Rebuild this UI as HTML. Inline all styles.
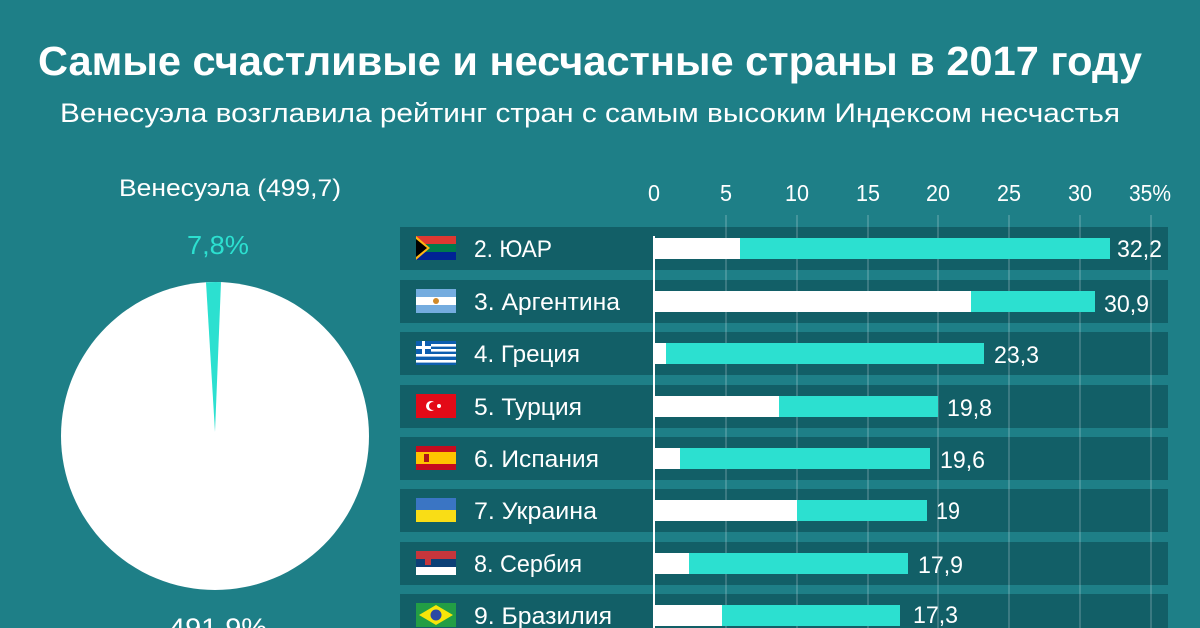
<!DOCTYPE html>
<html><head><meta charset="utf-8"><style>
html,body{margin:0;padding:0;background:#1e7f87;}
svg{display:block;}
text{font-family:"Liberation Sans","Noto Sans CJK SC",sans-serif;fill:#fff;}
</style></head><body>
<svg width="1200" height="628" viewBox="0 0 1200 628" xmlns="http://www.w3.org/2000/svg">
<rect width="1200" height="628" fill="#1e7f87"/>
<text x="590" y="75" font-size="41" font-weight="bold" text-anchor="middle" textLength="1104" lengthAdjust="spacingAndGlyphs">Самые счастливые и несчастные страны в 2017 году</text>
<text x="590" y="122" font-size="27" text-anchor="middle" textLength="1060" lengthAdjust="spacingAndGlyphs">Венесуэла возглавила рейтинг стран с самым высоким Индексом несчастья</text>

<text x="230" y="196" font-size="24" text-anchor="middle" textLength="222" lengthAdjust="spacingAndGlyphs">Венесуэла (499,7)</text>
<text x="218" y="254" font-size="26" text-anchor="middle" style="fill:#2ce0d0" textLength="62" lengthAdjust="spacingAndGlyphs">7,8%</text>
<circle cx="215" cy="436" r="154" fill="#fff"/>
<path d="M215 432 L206 282.3 A154 154 0 0 1 221 282.1 Z" fill="#2ce0d0"/>
<text x="218" y="637" font-size="27" text-anchor="middle" textLength="98" lengthAdjust="spacingAndGlyphs">491,9%</text>

<g fill="#125f67">
<rect x="400" y="227" width="768" height="43"/>
<rect x="400" y="280" width="768" height="43"/>
<rect x="400" y="332" width="768" height="43"/>
<rect x="400" y="385" width="768" height="43"/>
<rect x="400" y="437" width="768" height="43"/>
<rect x="400" y="489" width="768" height="43"/>
<rect x="400" y="542" width="768" height="43"/>
<rect x="400" y="594" width="768" height="43"/>
</g>
<g stroke="#ffffff" stroke-opacity="0.35" stroke-width="1">
<line x1="726" y1="215" x2="726" y2="628"/>
<line x1="797" y1="215" x2="797" y2="628"/>
<line x1="868" y1="215" x2="868" y2="628"/>
<line x1="938" y1="215" x2="938" y2="628"/>
<line x1="1009" y1="215" x2="1009" y2="628"/>
<line x1="1080" y1="215" x2="1080" y2="628"/>
<line x1="1151" y1="215" x2="1151" y2="628"/>
</g>
<g font-size="23" text-anchor="middle">
<text x="654" y="201" textLength="12" lengthAdjust="spacingAndGlyphs">0</text>
<text x="726" y="201" textLength="12" lengthAdjust="spacingAndGlyphs">5</text>
<text x="797" y="201" textLength="24" lengthAdjust="spacingAndGlyphs">10</text>
<text x="868" y="201" textLength="24" lengthAdjust="spacingAndGlyphs">15</text>
<text x="938" y="201" textLength="24" lengthAdjust="spacingAndGlyphs">20</text>
<text x="1009" y="201" textLength="24" lengthAdjust="spacingAndGlyphs">25</text>
<text x="1080" y="201" textLength="24" lengthAdjust="spacingAndGlyphs">30</text>
<text x="1150" y="201" textLength="42" lengthAdjust="spacingAndGlyphs">35%</text>
</g>

<g fill="#2ce0d0">
<rect x="654" y="238" width="456" height="21"/>
<rect x="654" y="291" width="441" height="21"/>
<rect x="654" y="343" width="330" height="21"/>
<rect x="654" y="396" width="284" height="21"/>
<rect x="654" y="448" width="276" height="21"/>
<rect x="654" y="500" width="273" height="21"/>
<rect x="654" y="553" width="254" height="21"/>
<rect x="654" y="605" width="246" height="21"/>
</g>
<g fill="#fff">
<rect x="654" y="238" width="86" height="21"/>
<rect x="654" y="291" width="317" height="21"/>
<rect x="654" y="343" width="12" height="21"/>
<rect x="654" y="396" width="125" height="21"/>
<rect x="654" y="448" width="26" height="21"/>
<rect x="654" y="500" width="143" height="21"/>
<rect x="654" y="553" width="35" height="21"/>
<rect x="654" y="605" width="68" height="21"/>
</g>
<line x1="654" y1="236" x2="654" y2="628" stroke="#fff" stroke-width="2"/>

<g font-size="24">
<text x="1117" y="257" textLength="45" lengthAdjust="spacingAndGlyphs">32,2</text>
<text x="1104" y="312" textLength="45" lengthAdjust="spacingAndGlyphs">30,9</text>
<text x="994" y="363" textLength="45" lengthAdjust="spacingAndGlyphs">23,3</text>
<text x="947" y="416" textLength="45" lengthAdjust="spacingAndGlyphs">19,8</text>
<text x="940" y="468" textLength="45" lengthAdjust="spacingAndGlyphs">19,6</text>
<text x="936" y="519" textLength="24" lengthAdjust="spacingAndGlyphs">19</text>
<text x="918" y="573" textLength="45" lengthAdjust="spacingAndGlyphs">17,9</text>
<text x="913" y="623" textLength="45" lengthAdjust="spacingAndGlyphs">17,3</text>
</g>
<g font-size="24">
<text x="474" y="257" textLength="78" lengthAdjust="spacingAndGlyphs">2. ЮАР</text>
<text x="474" y="310" textLength="146" lengthAdjust="spacingAndGlyphs">3. Аргентина</text>
<text x="474" y="362" textLength="106" lengthAdjust="spacingAndGlyphs">4. Греция</text>
<text x="474" y="415" textLength="108" lengthAdjust="spacingAndGlyphs">5. Турция</text>
<text x="474" y="467" textLength="125" lengthAdjust="spacingAndGlyphs">6. Испания</text>
<text x="474" y="519" textLength="123" lengthAdjust="spacingAndGlyphs">7. Украина</text>
<text x="474" y="572" textLength="108" lengthAdjust="spacingAndGlyphs">8. Сербия</text>
<text x="474" y="624" textLength="138" lengthAdjust="spacingAndGlyphs">9. Бразилия</text>
</g>

<g>
<rect x="416" y="236" width="40" height="24" fill="#007a4d"/>
<rect x="416" y="236" width="40" height="8" fill="#de3831"/>
<rect x="416" y="252" width="40" height="8" fill="#002395"/>
<rect x="416" y="245" width="40" height="6" fill="#007a4d"/>
<polygon points="416,236 430,248 416,260" fill="#ffb612"/>
<polygon points="416,239 427,248 416,257" fill="#000"/>
<rect x="416" y="289" width="40" height="24" fill="#74acdf"/>
<rect x="416" y="297" width="40" height="8" fill="#fff"/>
<circle cx="436" cy="301" r="3" fill="#d08a2a"/>
<rect x="416" y="341" width="40" height="24" fill="#0d5eaf"/>
<g fill="#fff"><rect x="416" y="344" width="40" height="2.6"/><rect x="416" y="349" width="40" height="2.6"/><rect x="416" y="354" width="40" height="2.6"/><rect x="416" y="360" width="40" height="2.6"/></g>
<rect x="416" y="341" width="15" height="13" fill="#0d5eaf"/>
<rect x="416" y="346" width="15" height="3" fill="#fff"/><rect x="422" y="341" width="3" height="13" fill="#fff"/>
<rect x="416" y="394" width="40" height="24" fill="#e30a17"/>
<circle cx="431" cy="406" r="5" fill="#fff"/><circle cx="433" cy="406" r="4" fill="#e30a17"/>
<circle cx="439" cy="406" r="2" fill="#fff"/>
<rect x="416" y="446" width="40" height="24" fill="#c60b1e"/>
<rect x="416" y="452" width="40" height="12" fill="#ffc400"/>
<rect x="424" y="454" width="5" height="8" fill="#ad1519"/>
<rect x="416" y="498" width="40" height="12" fill="#3a75c4"/>
<rect x="416" y="510" width="40" height="12" fill="#f9dd16"/>
<rect x="416" y="551" width="40" height="8" fill="#c6363c"/>
<rect x="416" y="559" width="40" height="8" fill="#0c4076"/>
<rect x="416" y="567" width="40" height="8" fill="#fff"/>
<rect x="425" y="554" width="6" height="11" fill="#c6363c"/>
<rect x="416" y="603" width="40" height="24" fill="#229e45"/>
<polygon points="436,605 453,615 436,625 419,615" fill="#f8e509"/>
<circle cx="436" cy="615" r="5.5" fill="#2b49a3"/>
</g>
</svg>
</body></html>
